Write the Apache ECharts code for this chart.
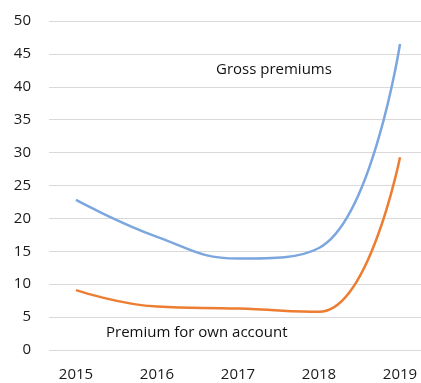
<!DOCTYPE html>
<html>
<head>
<meta charset="utf-8">
<script src="https://cdn.jsdelivr.net/npm/echarts@6/dist/echarts.min.js"></script>
<style>
  html, body { margin: 0; padding: 0; background: #fff; }
  #chart { width: 421px; height: 383px; }
</style>
</head>
<body>
<div id="chart"></div>
<script>
// Premium volumes by year
const years = ['2015', '2016', '2017', '2018', '2019'];
const grossPremiums = [22.8, 17.2, 13.9, 15.5, 46.5];
const ownAccount = [9.1, 6.6, 6.3, 5.8, 29.3];
const yTicks = { min: 0, max: 50, interval: 5 };

const fontFamily = '"Open Sans", "DejaVu Sans", sans-serif';
const textColor = '#1a1a1a';

const chart = echarts.init(document.getElementById('chart'), null, { renderer: 'canvas' });

chart.setOption({
  animation: false,
  backgroundColor: '#ffffff',
  grid: [
    // plotting grid: category points sit on the grid edges
    { left: 76, right: 21, top: 21, bottom: 33 },
    // value-axis grid: carries y labels and horizontal gridlines
    { left: 49, right: 0, top: 21, bottom: 33 }
  ],
  xAxis: [
    {
      type: 'category',
      gridIndex: 0,
      data: years,
      boundaryGap: false,
      axisLine: { show: false },
      axisTick: { show: false },
      axisLabel: { fontSize: 15, color: textColor, fontFamily: fontFamily, margin: 17 }
    },
    {
      type: 'value',
      gridIndex: 1,
      show: false
    }
  ],
  yAxis: [
    {
      type: 'value',
      gridIndex: 0,
      min: yTicks.min,
      max: yTicks.max,
      interval: yTicks.interval,
      show: false
    },
    {
      type: 'value',
      gridIndex: 1,
      min: yTicks.min,
      max: yTicks.max,
      interval: yTicks.interval,
      axisLine: { show: false },
      axisTick: { show: false },
      axisLabel: { fontSize: 15, color: textColor, fontFamily: fontFamily, margin: 18 },
      splitLine: { lineStyle: { color: '#d9d9d9', width: 1 } }
    }
  ],
  series: [
    {
      name: 'Gross premiums',
      type: 'line',
      xAxisIndex: 0,
      yAxisIndex: 0,
      data: grossPremiums,
      smooth: 0.45,
      symbol: 'none',
      lineStyle: { color: '#7ba7de', width: 2.5 }
    },
    {
      name: 'Premium for own account',
      type: 'line',
      xAxisIndex: 0,
      yAxisIndex: 0,
      data: ownAccount,
      smooth: 0.45,
      symbol: 'none',
      lineStyle: { color: '#ed7d31', width: 2.5 }
    }
  ],
  graphic: [
    {
      type: 'text',
      left: 216,
      top: 62,
      style: { text: 'Gross premiums', fontSize: 15, fill: '#111', fontFamily: fontFamily }
    },
    {
      type: 'text',
      left: 106,
      top: 325,
      style: { text: 'Premium for own account', fontSize: 15, fill: '#111', fontFamily: fontFamily }
    }
  ]
});
</script>
</body>
</html>
